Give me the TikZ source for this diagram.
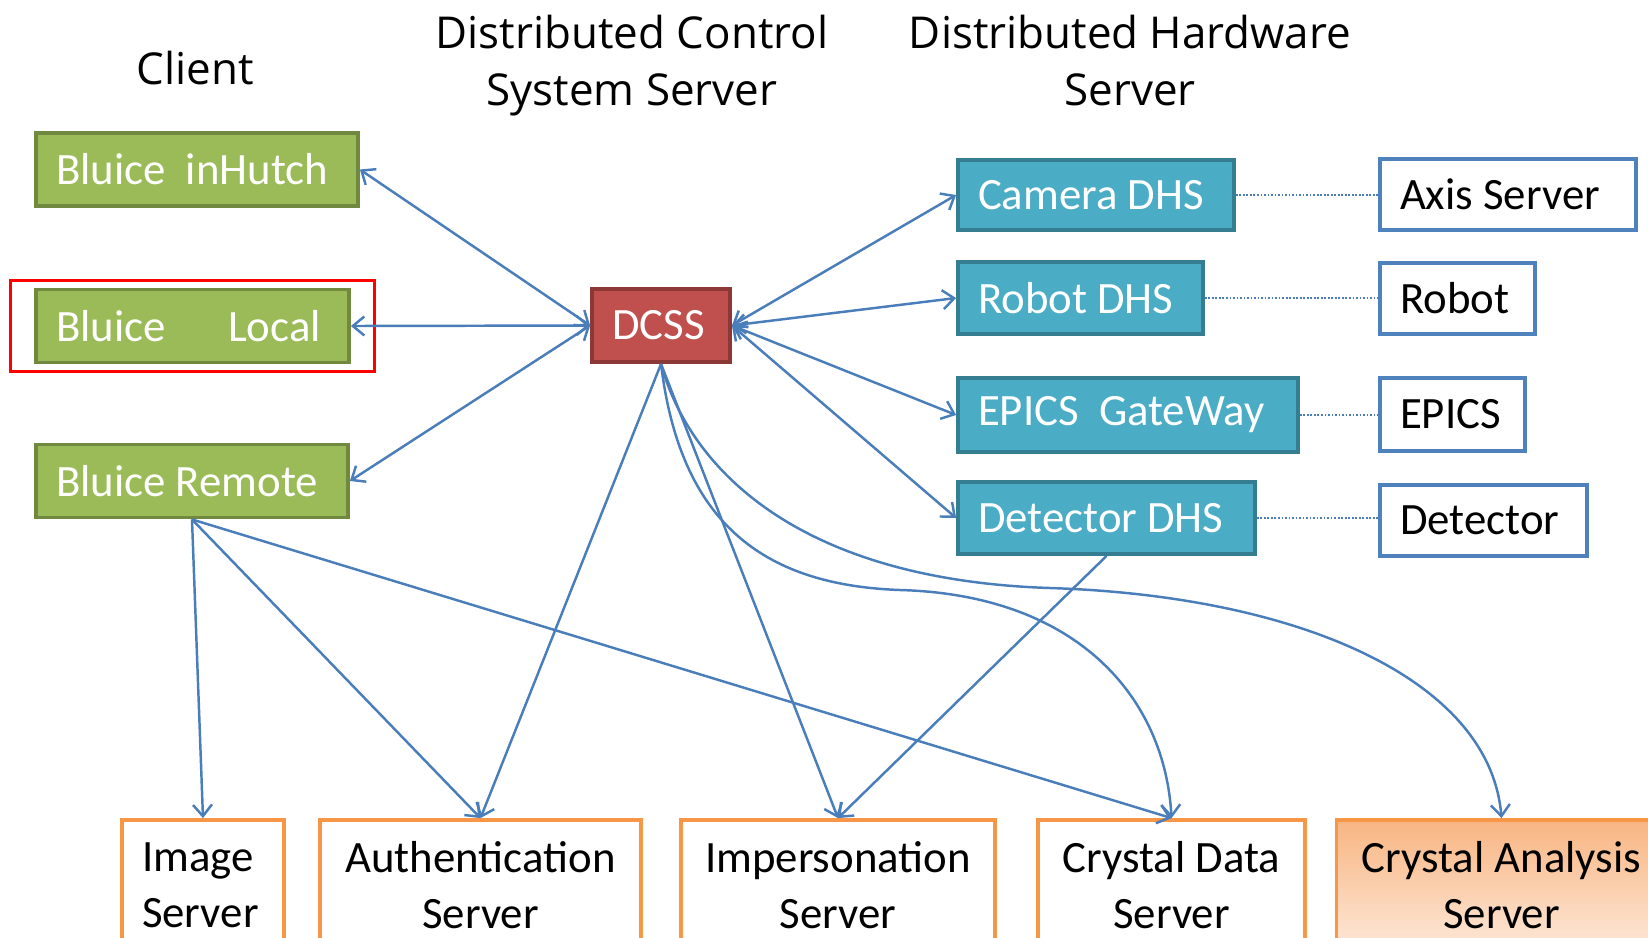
\documentclass[tikz,border=0pt]{standalone}
\usepackage{fontspec}
\setmainfont{Carlito}
\newfontfamily\titlefamily{Open Sans}
\usetikzlibrary{arrows.meta,fit}
\definecolor{clientfill}{HTML}{9BBB59}
\definecolor{clientline}{HTML}{71893F}
\definecolor{dcssfill}{HTML}{C0504D}
\definecolor{dcssline}{HTML}{8C3836}
\definecolor{dhsfill}{HTML}{4BACC6}
\definecolor{dhsline}{HTML}{357D91}
\definecolor{devline}{HTML}{4F81BD}
\definecolor{srvline}{HTML}{F79646}
\definecolor{linkblue}{HTML}{4A7EBB}
\definecolor{anatop}{HTML}{F8B582}
\definecolor{anabottom}{HTML}{FDE8D8}
\newcommand{\boxfont}{\fontsize{25.5}{32}\selectfont}
\newcommand{\headfont}{\titlefamily\fontsize{25}{32.5}\selectfont}
\tikzset{
  unit/.style={line width=2.2pt, inner xsep=0.4cm, inner ysep=0pt, font=\boxfont, align=flush left},
  client/.style={unit, draw=clientline, fill=clientfill, text=white, minimum height=1.46cm},
  dcssbox/.style={unit, draw=dcssline, fill=dcssfill, text=white, minimum height=1.46cm},
  dhs/.style={unit, draw=dhsline, fill=dhsfill, text=white, minimum height=1.44cm},
  device/.style={unit, draw=devline, fill=white, text=black, minimum height=1.42cm},
  srv/.style={unit, draw=srvline, fill=white, text=black, minimum height=2.6cm, align=flush center},
  head/.style={font=\headfont, inner sep=0pt, align=center},
  highlight/.style={draw=red, line width=1.9pt, inner xsep=0.47cm, inner ysep=0.14cm},
  link/.style={draw=linkblue, line width=1.4pt},
  wire/.style={draw=linkblue, line width=1pt, densely dotted},
  >={Straight Barb[length=2.3mm,width=3.8mm]}
}

\begin{document}
\begin{tikzpicture}[x=0.02cm,y=-0.02cm]
  \useasboundingbox (0,0) rectangle (1648,937);
  \clip (0,0) rectangle (1648,937);

  % column heads
  \node[head, anchor=base] (clienthead) at (195,84) {Client};
  \node[head, anchor=north] (dcsshead) at (632,15) {Distributed Control\\System Server};
  \node[head, anchor=north] (dhshead) at (1130,15) {Distributed Hardware\\Server};

  % clients
  \node[client, text width=5.64cm] (inhutch) at (197,169.5) {Bluice\ \ inHutch};
  \node[client, text width=5.46cm] (local) at (192.5,326) {\makebox[5.3cm][l]{Bluice\hfill Local}};
  \node[client, text width=5.44cm] (remote) at (192,481) {Bluice Remote};
  \node[highlight, fit=(local)] (mark) {};

  % control system server
  \node[dcssbox, text width=1.96cm] (dcss) at (661,325.5) {DCSS};

  % hardware servers
  \node[dhs, text width=4.72cm, minimum height=1.40cm] (camera) at (1096,195) {Camera DHS};
  \node[dhs, text width=4.10cm] (robotdhs) at (1080.5,298) {Robot DHS};
  \node[dhs, text width=6.00cm, minimum height=1.48cm] (gateway) at (1128,415) {EPICS\ \ GateWay};
  \node[dhs, text width=5.14cm] (detdhs) at (1106.5,518) {Detector DHS};

  % devices
  \node[device, text width=4.32cm] (axis) at (1508,194.5) {Axis Server};
  \node[device, text width=2.30cm] (robot) at (1457.5,298.5) {Robot};
  \node[device, text width=2.10cm, minimum height=1.46cm] (epics) at (1452.5,414.5) {EPICS};
  \node[device, text width=3.34cm] (detector) at (1483.5,520.5) {Detector};

  % servers
  \node[srv, text width=2.44cm, align=flush left] (image) at (203,885) {Image\\Server};
  \node[srv, text width=5.62cm] (auth) at (480.5,885) {Authentication\\Server};
  \node[srv, text width=5.48cm] (imp) at (838,885) {Impersonation\\Server};
  \node[srv, text width=4.54cm] (cdata) at (1171.5,885) {Crystal Data\\Server};
  \node[srv, text width=5.80cm, top color=anatop, bottom color=anabottom] (canal) at (1501.5,885) {Crystal Analysis\\Server};

  % links
  \draw[link,<->] (inhutch.east) -- (dcss.west);
  \draw[link,<->] (local.east) -- (dcss.west);
  \draw[link,<->] (remote.east) -- (dcss.west);
  \foreach \n in {camera,robotdhs,gateway,detdhs}
    \draw[link,<->] (dcss.east) -- (\n.west);
  \draw[wire] (camera.east) -- (camera.east -| axis.west);
  \draw[wire] (robotdhs.east) -- (robotdhs.east -| robot.west);
  \draw[wire] (gateway.east) -- (gateway.east -| epics.west);
  \draw[wire] (detdhs.east) -- (detdhs.east -| detector.west);

  \draw[link,->] (dcss.south) -- (auth.north);
  \draw[link,->] (dcss.south) -- (imp.north);
  \draw[link,->] (dcss.south) .. controls (680,520) and (760,585) .. (900,590)
    .. controls (1080,595) and (1165,700) .. (cdata.north);
  \draw[link,->] (dcss.south) .. controls (690,470) and (800,580) .. (1050,588)
    .. controls (1300,596) and (1490,680) .. (canal.north);
  \draw[link,->] (remote.south) -- (image.north);
  \draw[link,->] (remote.south) -- (auth.north);
  \draw[link,->] (remote.south) -- (cdata.north);
  \draw[link,->] (detdhs.south) -- (imp.north);
\end{tikzpicture}
\end{document}
